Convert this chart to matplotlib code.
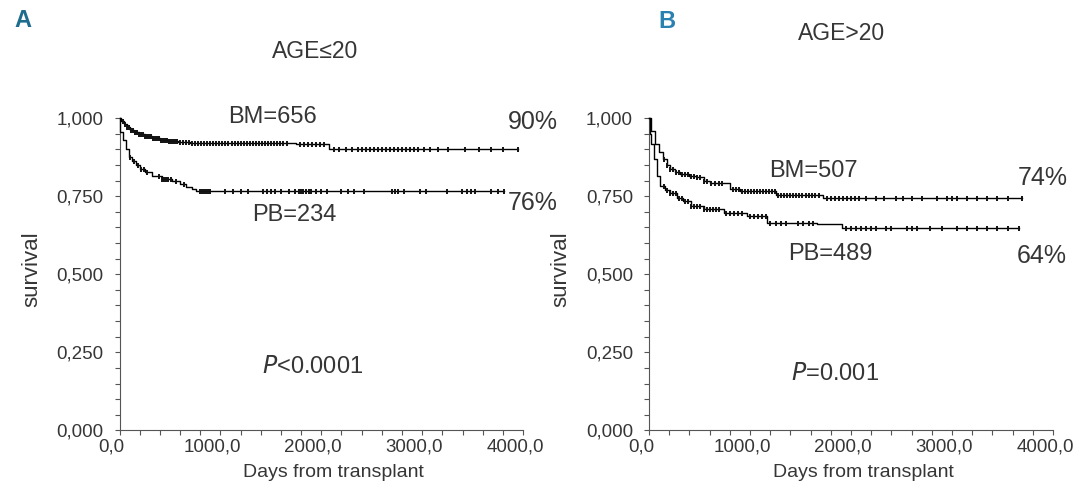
import numpy as np
import matplotlib
matplotlib.use('Agg')
import matplotlib.pyplot as plt
import matplotlib.transforms as mtransforms
from matplotlib.ticker import MultipleLocator, FuncFormatter

# ---- data ---------------------------------------------------------------
# panel A (age <= 20): step points (days, survival)
bm_a_t = [0, 15, 40, 70, 100, 140, 190, 250, 320, 400, 480, 580, 700, 1750, 2080, 3950]
bm_a_s = [1.0, 0.99, 0.98, 0.97, 0.963, 0.955, 0.948, 0.941, 0.935, 0.93, 0.926, 0.923, 0.921, 0.916, 0.902, 0.902]
pb_a_t = [0, 3, 30, 60, 90, 120, 160, 200, 250, 320, 420, 520, 600, 660, 720, 760, 3810]
pb_a_s = [1.0, 0.955, 0.93, 0.90, 0.875, 0.862, 0.85, 0.838, 0.826, 0.815, 0.806, 0.797, 0.788, 0.78, 0.772, 0.768, 0.768]

bm_a_cens = [30, 50, 70, 90, 110, 130, 150, 170, 190, 210, 230, 250, 270, 290, 310, 330,
             350, 370, 390, 410, 430, 450, 470, 490, 510, 530, 550, 570, 600, 630, 660,
             690, 720, 750, 780, 810, 840, 870, 900, 930, 960, 990, 1020, 1050, 1080, 1110,
             1140, 1170, 1200, 1230, 1260, 1290, 1320, 1350, 1380, 1410, 1440, 1470, 1500,
             1530, 1560, 1590, 1620, 1660, 1790, 1830, 1870, 1910, 1950, 1990, 2030,
             2130, 2180, 2240, 2300, 2360, 2400, 2440, 2480, 2520, 2560, 2600, 2640, 2680,
             2720, 2760, 2800, 2840, 2880, 2920, 2960, 3020, 3080, 3160, 3260, 3420,
             3560, 3680, 3800, 3950]
pb_a_cens = [100, 140, 180, 210, 240, 270, 390, 420, 440, 460, 480, 510, 560, 640, 800,
             820, 840, 860, 880, 900, 1050, 1120, 1200, 1270, 1420, 1460, 1500, 1540,
             1600, 1680, 1740, 1780, 1800, 1820, 1850, 1880, 1900, 1950, 2000, 2060, 2200,
             2260, 2320, 2420, 2700, 2730, 2760, 2820, 2980, 3040, 3250, 3390, 3440, 3480,
             3520, 3680, 3750, 3810]

# panel B (age > 20)
bm_b_t = [0, 20, 60, 100, 140, 180, 210, 260, 310, 400, 470, 540, 600, 800, 900, 1260, 1720, 3690]
bm_b_s = [1.0, 0.96, 0.918, 0.89, 0.87, 0.85, 0.837, 0.828, 0.82, 0.815, 0.81, 0.80, 0.793, 0.772, 0.765, 0.754, 0.745, 0.745]
pb_b_t = [0, 10, 20, 45, 80, 110, 160, 210, 280, 340, 420, 540, 740, 970, 1165, 1660, 1910, 3660]
pb_b_s = [1.0, 0.95, 0.918, 0.87, 0.815, 0.783, 0.77, 0.761, 0.745, 0.735, 0.72, 0.708, 0.697, 0.686, 0.664, 0.661, 0.647, 0.647]

bm_b_cens = [150, 180, 210, 240, 270, 300, 330, 360, 390, 420, 450, 480, 510, 540, 570,
             610, 650, 690, 720, 830, 860, 890, 920, 950, 980, 1010, 1040, 1070, 1100,
             1130, 1160, 1190, 1220, 1250, 1280, 1310, 1340, 1370, 1400, 1430, 1460, 1490,
             1520, 1550, 1580, 1610, 1640, 1680, 1760, 1800, 1840, 1880, 1920, 1960, 2000,
             2040, 2080, 2150, 2250, 2330, 2450, 2520, 2600, 2700, 2850, 2950, 3000, 3050,
             3150, 3250, 3350, 3450, 3550, 3690]
pb_b_cens = [150, 180, 210, 240, 270, 300, 330, 360, 390, 420, 450, 480, 510, 540, 570,
             600, 630, 660, 690, 760, 800, 840, 880, 920, 1000, 1040, 1080, 1120, 1160,
             1200, 1260, 1310, 1360, 1480, 1530, 1580, 1620, 1950, 2000, 2050, 2100, 2150,
             2200, 2250, 2350, 2400, 2550, 2600, 2650, 2780, 2900, 3050, 3150, 3250, 3350,
             3450, 3550, 3660]

panels = [
    dict(letter='A', title='AGE\u226420', bm=(bm_a_t, bm_a_s, bm_a_cens), pb=(pb_a_t, pb_a_s, pb_a_cens),
         bm_lab='BM=656', pb_lab='PB=234', bm_pct='90%', pb_pct='76%', p='<0.0001'),
    dict(letter='B', title='AGE>20', bm=(bm_b_t, bm_b_s, bm_b_cens), pb=(pb_b_t, pb_b_s, pb_b_cens),
         bm_lab='BM=507', pb_lab='PB=489', bm_pct='74%', pb_pct='64%', p='=0.001'),
]

# ---- style ---------------------------------------------------------------
plt.rcParams['font.family'] = ['Liberation Sans', 'DejaVu Sans']
TXT = '#363636'
AX = '#555555'

fig = plt.figure(figsize=(10.78, 4.86), dpi=100)
ax_a = fig.add_axes([0.1109, 0.1142, 0.3743, 0.6430])
ax_b = fig.add_axes([0.6020, 0.1142, 0.3748, 0.6430])

# label positions (data units / figure fraction)
layout = {
    'A': dict(letter=(0.021, 0.957), title=(1938, 1.214), bm=(1521, 1.003), pb=(1729, 0.690),
              bm_pct=(4098, 0.987), pb_pct=(4098, 0.728), p=(1918, 0.203), lc='#1f6d8e'),
    'B': dict(letter=(0.619, 0.955), title=(1911, 1.272), bm=(1624, 0.832), pb=(1792, 0.566),
              bm_pct=(3901, 0.808), pb_pct=(3891, 0.558), p=(1842, 0.181), lc='#2a80b0'),
}


def step_value(t, s, x):
    idx = np.searchsorted(t, x, side='right') - 1
    return np.asarray(s)[idx]


shift_left = mtransforms.ScaledTranslation(-8 / 100, 0, fig.dpi_scale_trans)

for ax, pn in zip([ax_a, ax_b], panels):
    lay = layout[pn['letter']]
    for t, s, cens in (pn['bm'], pn['pb']):
        ax.step(t, s, where='post', color='black', lw=1.0, clip_on=False, zorder=3)
        ax.plot(cens, step_value(t, s, cens), ls='none', marker='|', ms=3.6, mew=1.4,
                color='#111111', clip_on=False, zorder=3)

    ax.set_xlim(0, 4000)
    ax.set_ylim(0, 1.0)
    ax.xaxis.set_major_locator(MultipleLocator(1000))
    ax.xaxis.set_minor_locator(MultipleLocator(200))
    ax.yaxis.set_major_locator(MultipleLocator(0.25))
    ax.yaxis.set_minor_locator(MultipleLocator(0.05))
    ax.xaxis.set_major_formatter(FuncFormatter(lambda v, p: f'{v:.1f}'.replace('.', ',')))
    ax.yaxis.set_major_formatter(FuncFormatter(lambda v, p: f'{v:.3f}'.replace('.', ',')))
    ax.tick_params(which='both', direction='out', length=3.5, width=0.8, color=AX,
                   labelsize=13.5, labelcolor=TXT)
    ax.tick_params(axis='y', pad=8)
    ax.tick_params(axis='x', pad=2)
    for lbl in ax.get_xticklabels():
        lbl.set_transform(lbl.get_transform() + shift_left)
    for side in ('top', 'right'):
        ax.spines[side].set_visible(False)
    for side in ('left', 'bottom'):
        ax.spines[side].set_color(AX)
        ax.spines[side].set_linewidth(0.8)

    ax.text(0.53, -0.135, 'Days from transplant', transform=ax.transAxes, ha='center', va='center',
            fontsize=14, color=TXT)
    ax.text(-0.218, 0.515, 'survival', transform=ax.transAxes, rotation=90, ha='center',
            va='center', fontsize=16, color=TXT)

    kw = dict(ha='center', va='center', fontsize=17, color=TXT, clip_on=False)
    ax.text(*lay['title'], pn['title'], **dict(kw, fontsize=16.5))
    ax.text(*lay['bm'], pn['bm_lab'], **kw)
    ax.text(*lay['pb'], pn['pb_lab'], **kw)
    ax.text(*lay['bm_pct'], pn['bm_pct'], **dict(kw, fontsize=18))
    ax.text(*lay['pb_pct'], pn['pb_pct'], **dict(kw, fontsize=18))
    ax.text(*lay['p'], r'$\it{P}$' + pn['p'], **kw)
    fig.text(*lay['letter'], pn['letter'], ha='center', va='center', fontsize=17,
             fontweight='bold', color=lay['lc'])

fig.savefig('out.png', dpi=100)
